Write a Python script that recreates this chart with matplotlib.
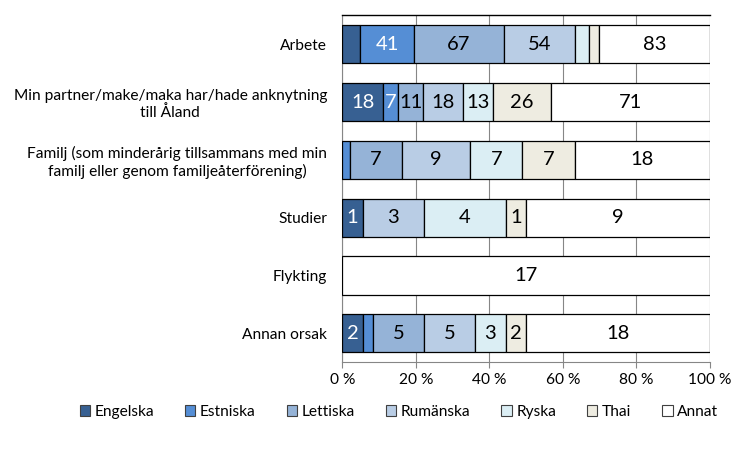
import matplotlib
matplotlib.use("Agg")
import matplotlib.pyplot as plt
import numpy as np
from matplotlib.ticker import FixedLocator

categories = [
    "Arbete",
    "Min partner/make/maka har/hade anknytning\ntill Åland",
    "Familj (som minderårig tillsammans med min\nfamilj eller genom familjeåterförening)",
    "Studier",
    "Flykting",
    "Annan orsak",
]
series_names = ["Engelska", "Estniska", "Lettiska", "Rumänska", "Ryska", "Thai", "Annat"]
engelska = [13, 18, 0, 1, 0, 2]
estniska = [41, 7, 1, 0, 0, 1]
lettiska = [67, 11, 7, 0, 0, 5]
rumanska = [54, 18, 9, 3, 0, 5]
ryska = [10, 13, 7, 4, 0, 3]
thai = [8, 26, 7, 1, 0, 2]
annat = [83, 71, 18, 9, 17, 18]
x_ticks = [0, 20, 40, 60, 80, 100]
x_ticklabels = ["0 %", "20 %", "40 %", "60 %", "80 %", "100 %"]

colors = ["#376092", "#558ED5", "#95B3D7", "#B9CDE5", "#DBEEF4", "#EEECE1", "#FFFFFF"]
text_colors = ["white", "white", "black", "black", "black", "black", "black"]

plt.rcParams["font.family"] = ["Lato", "DejaVu Sans"]

data = np.array([engelska, estniska, lettiska, rumanska, ryska, thai, annat], dtype=float)
totals = data.sum(axis=0)
pct = data / totals * 100

fig = plt.figure(figsize=(7.5, 4.5), dpi=100)
ax = fig.add_axes([342.4 / 750, 1 - 362.3 / 450, (710 - 342.4) / 750, (362.3 - 15.3) / 450])

y = np.arange(len(categories))
left = np.zeros(len(categories))
handles = []
for i, name in enumerate(series_names):
    widths = pct[i]
    mask = data[i] > 0
    ax.barh(y[mask], widths[mask], left=left[mask], height=0.66,
            color=colors[i], edgecolor="black", linewidth=0.9, zorder=3)
    handles.append(plt.Rectangle((0, 0), 1, 1, facecolor=colors[i], edgecolor="#404040", linewidth=0.8))
    for j in range(len(categories)):
        v = int(data[i][j])
        if v <= 0:
            continue
        nd = len(str(v))
        if widths[j] >= 2 + 2 * nd:
            ax.text(left[j] + widths[j] / 2, y[j], str(v), ha="center", va="center",
                    fontsize=14.5, color=text_colors[i], zorder=4)
    left = left + widths

ax.set_xlim(0, 100)
ax.set_ylim(len(categories) - 0.5, -0.5)
ax.set_yticks(y)
ax.set_yticklabels(categories, fontsize=11.2, multialignment="center")
ax.xaxis.set_major_locator(FixedLocator(x_ticks))
ax.set_xticklabels(x_ticklabels, fontsize=11.2)
ax.tick_params(axis="y", length=0, pad=11)
ax.tick_params(axis="x", length=4, width=0.8, color="#868686", pad=4, direction="out")
ax.grid(axis="x", color="#868686", linewidth=0.8, zorder=0)
ax.set_axisbelow(True)
for s in ["left", "bottom"]:
    ax.spines[s].set_color("#868686")
    ax.spines[s].set_linewidth(0.8)
ax.spines["right"].set_visible(False)
ax.spines["top"].set_color("black")
ax.spines["top"].set_linewidth(1.0)

fig.legend(handles, series_names, loc="center", bbox_to_anchor=(399 / 750, 1 - 412 / 450),
           ncol=7, frameon=False, fontsize=11.2, handlelength=0.65, handleheight=0.65,
           handletextpad=0.3, columnspacing=2.0)

fig.savefig("out.png", dpi=100)
